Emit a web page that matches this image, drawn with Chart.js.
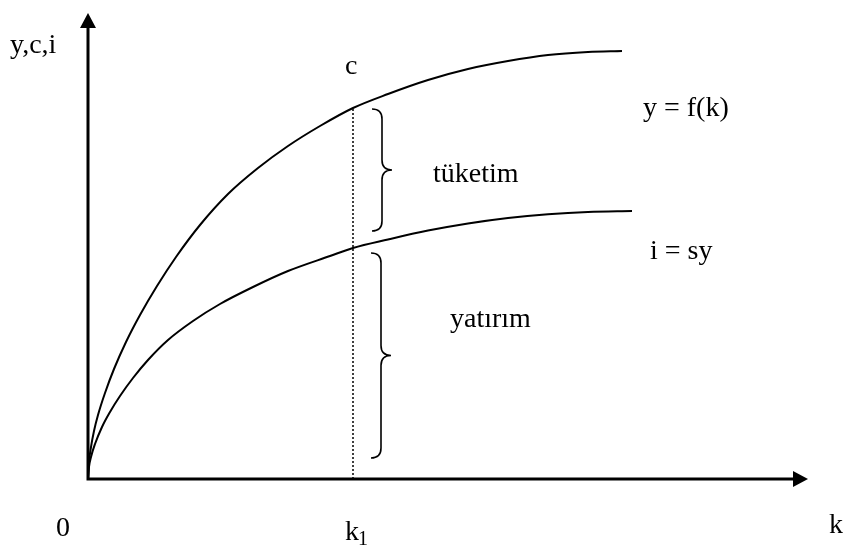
<!DOCTYPE html>
<html>
<head>
<meta charset="utf-8">
<script src="https://cdn.jsdelivr.net/npm/chart.js@4/dist/chart.umd.min.js"></script>
<style>
  html, body { margin: 0; padding: 0; background: #fff; }
  #wrap { width: 847px; height: 548px; }
</style>
</head>
<body>
<div id="wrap"><canvas id="solow" width="847" height="548"></canvas></div>
<script>
// k axis runs 0..720, output axis 0..466 (schematic units)
const outputK = [0, 1, 3, 6, 10, 17, 26, 38, 52, 69, 88, 112, 140, 170, 200, 232, 265, 300, 340, 380, 420, 460, 500, 534];
const outputY = [0, 17, 32, 48, 64, 86, 110, 137, 164, 193, 222, 254, 285, 311, 333, 353, 371, 385, 399, 410, 418, 424, 427, 428];

const investK = [0, 1, 3, 7, 14, 22, 32, 45, 60, 80, 105, 132, 165, 200, 242, 265, 300, 340, 380, 420, 460, 500, 544];
const investY = [0, 12, 22, 35, 52, 67, 83, 101, 119, 139, 158, 175, 192, 208, 223, 231, 239.5, 248.4, 255.5, 261, 264.8, 267.1, 268];

const k1 = 265;
const kMax = 720;
const yMax = 466;

const toPoints = (xs, ys) => xs.map((x, i) => ({ x, y: ys[i] }));

const valueAt = (xs, ys, x) => ys[xs.indexOf(x)];

const diagram = {
    id: 'diagram',
    afterDatasetsDraw(chart) {
        const { ctx, scales: { x, y } } = chart;
        const px = v => x.getPixelForValue(v);
        const py = v => y.getPixelForValue(v);
        const x0 = px(0), y0 = py(0);

        ctx.save();
        ctx.strokeStyle = '#000';
        ctx.fillStyle = '#000';

        // axes
        ctx.lineWidth = 3;
        ctx.beginPath();
        ctx.moveTo(x0, y0 + 1.5);
        ctx.lineTo(x0, py(yMax) + 10);
        ctx.moveTo(x0 - 1.5, y0);
        ctx.lineTo(px(kMax) - 10, y0);
        ctx.stroke();

        // arrow heads
        ctx.beginPath();
        ctx.moveTo(x0, py(yMax));
        ctx.lineTo(x0 - 8, py(yMax) + 15);
        ctx.lineTo(x0 + 8, py(yMax) + 15);
        ctx.closePath();
        ctx.fill();
        ctx.beginPath();
        ctx.moveTo(px(kMax), y0);
        ctx.lineTo(px(kMax) - 15, y0 - 8);
        ctx.lineTo(px(kMax) - 15, y0 + 8);
        ctx.closePath();
        ctx.fill();

        // curly braces
        const brace = (xv, top, bottom) => {
            const mid = (top + bottom) / 2;
            const r = 10;
            ctx.beginPath();
            ctx.moveTo(xv - 10, top);
            ctx.quadraticCurveTo(xv, top, xv, top + r);
            ctx.lineTo(xv, mid - r);
            ctx.quadraticCurveTo(xv, mid, xv + 10, mid);
            ctx.quadraticCurveTo(xv, mid, xv, mid + r);
            ctx.lineTo(xv, bottom - r);
            ctx.quadraticCurveTo(xv, bottom, xv - 10, bottom);
            ctx.stroke();
        };
        ctx.lineWidth = 1.6;
        const yUp = valueAt(outputK, outputY, k1);
        const yLo = valueAt(investK, investY, k1);
        brace(px(k1) + 29, py(yUp) + 1, py(yLo) - 17);
        brace(px(k1) + 28, py(yLo) + 5, py(0) - 21);

        // labels
        ctx.font = '28px "Liberation Serif", "Times New Roman", serif';
        ctx.textBaseline = 'alphabetic';
        ctx.textAlign = 'left';
        ctx.fillText('y,c,i', 10, 53);
        ctx.fillText('c', px(k1) - 8, 74);
        ctx.fillText('y = f(k)', 643, 116);
        ctx.fillText('t\u00fcketim', 433, 182);
        ctx.fillText('i = sy', 650, 259);
        ctx.fillText('yat\u0131r\u0131m', 450, 327);
        ctx.fillText('0', 56, 536);
        ctx.fillText('k', px(k1) - 8, 540);
        ctx.fillText('k', 829, 533);
        ctx.font = '20px "Liberation Serif", "Times New Roman", serif';
        ctx.fillText('1', px(k1) + 5, 545);
        ctx.restore();
    }
};

new Chart(document.getElementById('solow'), {
    type: 'scatter',
    data: {
        datasets: [
            {
                label: 'y = f(k)',
                data: toPoints(outputK, outputY),
                showLine: true,
                borderColor: '#000',
                borderWidth: 2,
                pointRadius: 0,
                cubicInterpolationMode: 'monotone',
                clip: false
            },
            {
                label: 'i = sy',
                data: toPoints(investK, investY),
                showLine: true,
                borderColor: '#000',
                borderWidth: 2,
                pointRadius: 0,
                cubicInterpolationMode: 'monotone',
                clip: false
            },
            {
                label: 'k1',
                data: [{ x: k1, y: 0 }, { x: k1, y: valueAt(outputK, outputY, k1) }],
                showLine: true,
                borderColor: '#000',
                borderWidth: 1.5,
                borderDash: [2, 2],
                pointRadius: 0,
                clip: false
            }
        ]
    },
    options: {
        responsive: false,
        animation: false,
        layout: { padding: { left: 88, right: 39, top: 13, bottom: 69 } },
        scales: {
            x: { type: 'linear', min: 0, max: kMax, display: false },
            y: { type: 'linear', min: 0, max: yMax, display: false }
        },
        plugins: {
            legend: { display: false },
            tooltip: { enabled: false }
        }
    },
    plugins: [diagram]
});
</script>
</body>
</html>
